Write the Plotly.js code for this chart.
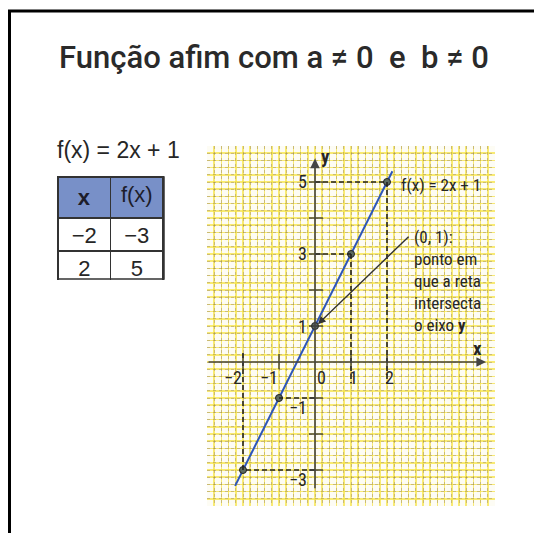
<!DOCTYPE html>
<html>
<head>
<meta charset="utf-8">
<script src="https://cdn.plot.ly/plotly-3.0.1.min.js"></script>
<style>
  html, body { margin: 0; padding: 0; background: #ffffff; }
  #chart { width: 534px; height: 533px; }
</style>
</head>
<body>
<div id="chart"></div>
<script>
// f(x) = 2x + 1 : drawn segment of the line
const lineX = [-2.22, 2.15];
const lineY = [-3.44, 5.3];

// marked points on the line
const ptX = [-2, -1, 0, 1, 2];
const ptY = [-3, -1, 1, 3, 5];

// value table
const tabX = [-2, 2];
const tabY = [-3, 5];

// axis ticks and their labels
const xTickVals = [-2, -1, 1, 2];
const yTickVals = [-3, -2, -1, 1, 2, 3, 4, 5];
const xLabelVals = [-2, -1, 0, 1, 2];
const xLabelText = ['−2', '−1', '0', '1', '2'];
const yLabelVals = [-3, -1, 1, 3, 5];
const yLabelText = ['−3', '−1', '1', '3', '5'];

// where each point's vertical guide ends (null = no vertical guide)
const guideEnd = [0.3, null, null, -0.6, -0.6];

const W = 534, H = 533;
const px = v => v / W;          // pixel -> paper x
const py = v => (H - v) / H;    // pixel -> paper y
const fmt = v => (v < 0 ? '−' + Math.abs(v) : String(v));

const narrow = 'Liberation Sans Narrow, Roboto Condensed, Liberation Sans, Arial, sans-serif';
const ink = '#262626';

const shapes = [];
const annotations = [];

// page frame
shapes.push({type: 'line', xref: 'paper', yref: 'paper', x0: px(8), x1: 1, y0: py(11), y1: py(11),
             line: {color: '#000', width: 3}});
shapes.push({type: 'line', xref: 'paper', yref: 'paper', x0: px(9.5), x1: px(9.5), y0: 0, y1: py(10),
             line: {color: '#000', width: 3}});

// outer border of the value table
shapes.push({type: 'rect', xref: 'paper', yref: 'paper', x0: px(58), x1: px(164), y0: py(279), y1: py(177),
             line: {color: '#333', width: 1.5}});

// dashed guides from the points to the axes
ptX.forEach((x, i) => {
  const y = ptY[i];
  if (x === 0) return;
  shapes.push({type: 'line', xref: 'x', yref: 'y', x0: 0, x1: x, y0: y, y1: y,
               line: {color: '#222', width: 1.6, dash: '5px,3px'}});
  if (guideEnd[i] !== null) {
    shapes.push({type: 'line', xref: 'x', yref: 'y', x0: x, x1: x, y0: y, y1: guideEnd[i],
                 line: {color: '#222', width: 1.6, dash: '5px,3px'}});
  }
});

// tick marks
xTickVals.forEach(v => shapes.push({type: 'line', xref: 'x', yref: 'y', x0: v, x1: v, y0: -0.2, y1: 0.22,
                                     line: {color: '#333', width: 1.3}}));
yTickVals.forEach(v => shapes.push({type: 'line', xref: 'x', yref: 'y', x0: -0.17, x1: 0.22, y0: v, y1: v,
                                     line: {color: '#333', width: 1.3}}));

// axes with arrowheads
annotations.push({x: 4.75, y: 0, ax: -3, ay: 0, xref: 'x', yref: 'y', axref: 'x', ayref: 'y',
                  text: '', showarrow: true, arrowhead: 2, arrowsize: 1.2, arrowwidth: 1.6, arrowcolor: '#444'});
annotations.push({x: 0, y: 5.65, ax: 0, ay: -3.55, xref: 'x', yref: 'y', axref: 'x', ayref: 'y',
                  text: '', showarrow: true, arrowhead: 2, arrowsize: 1.2, arrowwidth: 1.6, arrowcolor: '#444'});

// tick labels
xLabelVals.forEach((v, i) => annotations.push({
  x: v === 0 ? 0.17 : v + (v < 0 ? -0.27 : 0.08), y: -0.42, xref: 'x', yref: 'y',
  text: xLabelText[i], showarrow: false, font: {family: narrow, size: 18, color: ink}
}));
yLabelVals.forEach((v, i) => annotations.push({
  x: -0.17, y: v < 0 ? v - 0.25 : v, xref: 'x', yref: 'y', xanchor: 'right',
  text: yLabelText[i], showarrow: false, font: {family: narrow, size: 18, color: ink}
}));

// axis names
annotations.push({x: 4.5, y: 0.38, xref: 'x', yref: 'y', text: '<b>x</b>', showarrow: false,
                  font: {family: narrow, size: 19, color: ink}});
annotations.push({x: 0.3, y: 5.72, xref: 'x', yref: 'y', text: '<b>y</b>', showarrow: false,
                  font: {family: narrow, size: 19, color: ink}});

// line label
annotations.push({x: 2.33, y: 4.92, xref: 'x', yref: 'y', xanchor: 'left', text: 'f(x) = 2x + 1',
                  showarrow: false, font: {family: narrow, size: 17, color: ink}});

// y-intercept callout
annotations.push({x: 0.08, y: 1.05, ax: 2.64, ay: 3.52, xref: 'x', yref: 'y', axref: 'x', ayref: 'y',
                  text: '', showarrow: true, arrowhead: 2, arrowsize: 1.1, arrowwidth: 1.4, arrowcolor: '#333'});
annotations.push({x: 2.7, y: 3.8, xref: 'x', yref: 'y', xanchor: 'left', yanchor: 'top', align: 'left',
                  text: '(0, 1):<br>ponto em<br>que a reta<br>intersecta<br>o eixo <b>y</b>',
                  showarrow: false, font: {family: narrow, size: 17, color: ink}});

// page title and formula
annotations.push({x: px(57), y: py(57), xref: 'paper', yref: 'paper', xanchor: 'left', yanchor: 'middle',
                  text: 'Função afim com a ≠ 0  e  b ≠ 0', showarrow: false,
                  font: {family: 'Roboto, DejaVu Sans, sans-serif', size: 31, weight: 500, color: '#2a2a2a'}});
annotations.push({x: px(55), y: py(150), xref: 'paper', yref: 'paper', xanchor: 'left', yanchor: 'middle',
                  text: 'f(x) = 2x + 1', showarrow: false,
                  font: {family: 'Liberation Sans, Arial, sans-serif', size: 23, color: ink}});

const traces = [
  {type: 'scatter', mode: 'lines', x: lineX, y: lineY, hoverinfo: 'skip',
   line: {color: '#2d55b8', width: 2}},
  {type: 'scatter', mode: 'markers', x: ptX, y: ptY, hoverinfo: 'skip',
   marker: {size: 7, color: '#5b6a60', line: {color: '#222', width: 1}}},
  // second axis pair only carries the dotted grid
  {type: 'scatter', mode: 'markers', x: [0], y: [0], xaxis: 'x2', yaxis: 'y2', hoverinfo: 'skip',
   marker: {size: 1, opacity: 0}},
  {type: 'table',
   domain: {x: [px(58), px(164)], y: [py(281), py(177)]},
   columnwidth: [1, 1],
   header: {values: ['<b>x</b>', 'f(x)'], height: 36, align: 'center',
            fill: {color: '#7890c8'}, line: {color: '#333', width: 1.5},
            font: {family: 'Liberation Sans, Arial, sans-serif', size: 22, color: '#1d1d2a'}},
   cells: {values: [tabX.map(fmt), tabY.map(fmt)], height: 33, align: 'center',
           fill: {color: '#ffffff'}, line: {color: '#333', width: 1.5},
           font: {family: 'Liberation Sans, Arial, sans-serif', size: 22, color: ink}}}
];

const xDom = [px(207), px(495)];
const yDom = [(H - 506) / H, (H - 146) / H];

const layout = {
  width: W, height: H,
  margin: {l: 0, r: 0, t: 0, b: 0},
  paper_bgcolor: '#ffffff',
  plot_bgcolor: '#fdfcf4',
  showlegend: false,
  xaxis: {domain: xDom, range: [-3, 5], tick0: -3, dtick: 0.2, showgrid: true,
          gridcolor: 'rgba(245,226,60,0.7)', gridwidth: 1.5, zeroline: false,
          showticklabels: false, ticks: '', showline: false, fixedrange: true},
  yaxis: {domain: yDom, range: [-4, 6], tick0: -4, dtick: 0.2, showgrid: true,
          gridcolor: 'rgba(245,226,60,0.7)', gridwidth: 1.5, zeroline: false,
          showticklabels: false, ticks: '', showline: false, fixedrange: true},
  xaxis2: {overlaying: 'x', domain: xDom, range: [-3, 5], tick0: -3, dtick: 0.2, showgrid: true,
           gridcolor: 'rgba(120,100,110,0.35)', griddash: 'dot', gridwidth: 1, zeroline: false,
           showticklabels: false, ticks: '', anchor: 'y2', fixedrange: true},
  yaxis2: {overlaying: 'y', domain: yDom, range: [-4, 6], tick0: -4, dtick: 0.2, showgrid: true,
           gridcolor: 'rgba(120,100,110,0.35)', griddash: 'dot', gridwidth: 1, zeroline: false,
           showticklabels: false, ticks: '', anchor: 'x2', fixedrange: true},
  shapes: shapes,
  annotations: annotations
};

Plotly.newPlot('chart', traces, layout, {displayModeBar: false, staticPlot: true});
</script>
</body>
</html>
